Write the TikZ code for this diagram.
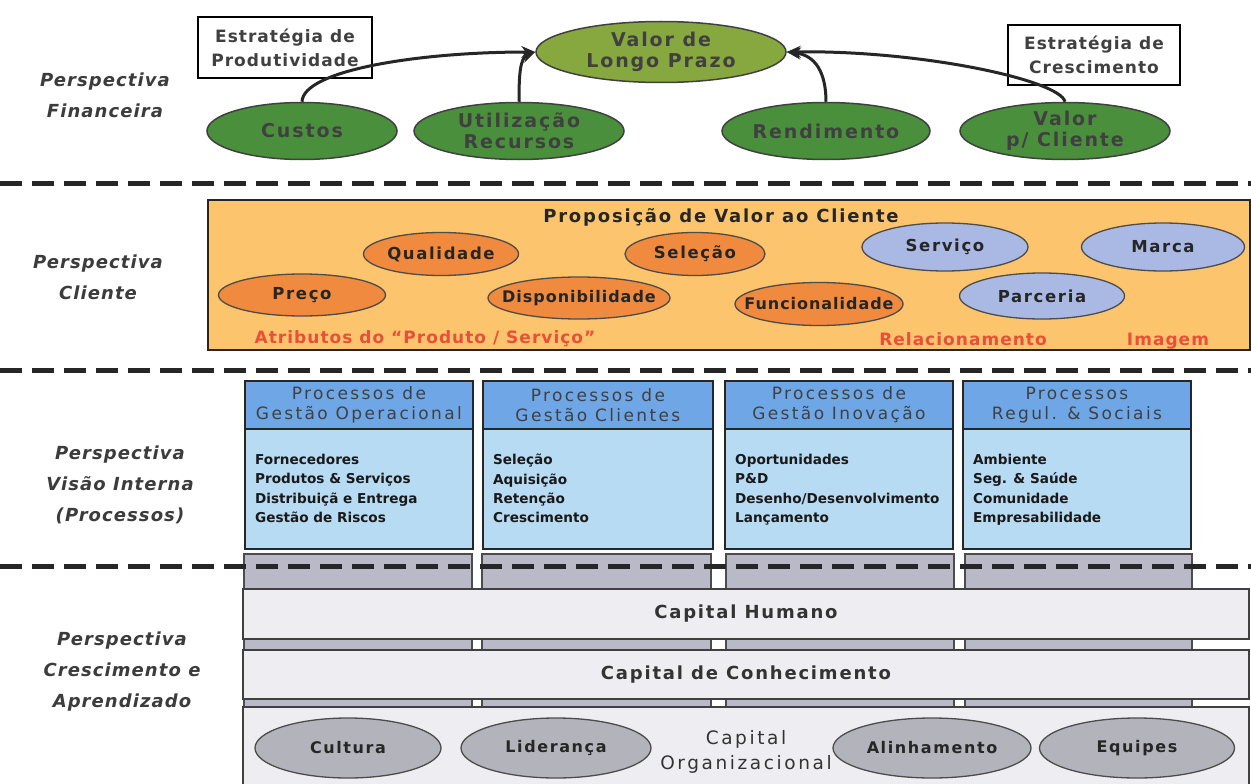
\documentclass[tikz,border=0pt]{standalone}
\usepackage{fontspec}
\setmainfont{DejaVu Sans}
\newfontfamily\spaced[LetterSpace=6]{DejaVu Sans}
\newfontfamily\roomy[LetterSpace=10]{DejaVu Sans}
\newfontfamily\wide[LetterSpace=14]{DejaVu Sans}
\usetikzlibrary{shapes.geometric,arrows.meta}

\definecolor{fingreen}{HTML}{4A8F3C}
\definecolor{finolive}{HTML}{86A83E}
\definecolor{boxorange}{HTML}{FCC46C}
\definecolor{ellorange}{HTML}{F08A3E}
\definecolor{ellblue}{HTML}{AAB9E4}
\definecolor{attrred}{HTML}{E8503A}
\definecolor{headblue}{HTML}{6FA6E6}
\definecolor{bodyblue}{HTML}{B8DBF4}
\definecolor{colgray}{HTML}{B9B9C7}
\definecolor{layergray}{HTML}{EEEEF2}
\definecolor{ellgray}{HTML}{B3B3BB}
\definecolor{labelgray}{HTML}{3C3C3C}

\begin{document}
\begin{tikzpicture}[x=1pt,y=-1pt,
  persp/.style={align=center, text=labelgray,
    font={\spaced\bfseries\itshape\fontsize{18}{31}\selectfont}},
  sep/.style={line width=5pt, dash pattern=on 22pt off 10pt, black!85},
  % ellipses keep the size given by minimum width/height
  fixell/.style={ellipse, inner xsep=-40pt, inner ysep=-10pt, align=center},
  finell/.style={fixell, draw=black!75, line width=1.5pt, fill=fingreen,
    text=black!75, font={\roomy\bfseries\fontsize{19}{21}\selectfont}},
  stratbox/.style={draw=black, line width=1.8pt, fill=white, align=center,
    inner sep=0pt, text=black!75,
    font={\spaced\bfseries\fontsize{17}{24}\selectfont}},
  arr/.style={line width=3pt, black!85, -{Stealth[length=14pt,width=12pt]}},
  cliell/.style={fixell, draw=black!70, line width=1.3pt, fill=ellorange,
    text=black!85, font={\roomy\bfseries\fontsize{16.5}{19}\selectfont}},
  tightell/.style={cliell, font={\spaced\bfseries\fontsize{16}{19}\selectfont}},
  blueell/.style={cliell, fill=ellblue},
  redtxt/.style={text=attrred, font={\spaced\bfseries\fontsize{17}{19}\selectfont}},
  phead/.style={draw=black!85, line width=1.8pt, fill=headblue, align=center,
    inner sep=0pt, text=black!75,
    font={\wide\fontsize{17}{20}\selectfont}},
  pbody/.style={draw=black!85, line width=1.8pt, fill=bodyblue, inner sep=0pt},
  plist/.style={align=left, anchor=north west, inner sep=0pt, text=black!90,
    font={\bfseries\fontsize{13.6}{19.4}\selectfont}},
  column/.style={draw=black!70, line width=1.5pt, fill=colgray},
  layer/.style={draw=black!75, line width=1.8pt, fill=layergray},
  layertxt/.style={text=black!80, font={\roomy\bfseries\fontsize{18}{20}\selectfont}},
  grayell/.style={fixell, draw=black!70, line width=1.3pt, fill=ellgray,
    text=black!85, font={\roomy\bfseries\fontsize{16}{18}\selectfont}},
]
\clip (0,0) rectangle (1251,784);
\fill[white] (0,0) rectangle (1251,784);

% ---------- perspective titles ----------
\node[persp] (pfin) at (105,95) {Perspectiva\\Financeira};
\node[persp] (pcli) at (98,277) {Perspectiva\\Cliente};
\node[persp] (pint) at (120,485) {Perspectiva\\Visão Interna\\(Processos)};
\node[persp] (pcre) at (122,672) {Perspectiva\\Crescimento e\\Aprendizado};

% ---------- financial perspective ----------
\node[stratbox, minimum width=174, minimum height=61] (eprod) at (285,47.5) {Estratégia de\\Produtividade};
\node[stratbox, minimum width=172, minimum height=60] (ecres) at (1094,55) {Estratégia de\\Crescimento};

\node[finell, fill=finolive, minimum width=250, minimum height=61] (vlp) at (661,52) {Valor de\\Longo Prazo};
\node[finell, minimum width=190, minimum height=57] (custos) at (302,131) {Custos};
\node[finell, minimum width=210, minimum height=57] (util) at (519,131) {Utilização\\Recursos};
\node[finell, minimum width=208, minimum height=57] (rend) at (826,131) {Rendimento};
\node[finell, minimum width=210, minimum height=57] (vpc) at (1065,131) {Valor\\p/ Cliente};

\draw[arr] (custos.north) .. controls (303,70) and (420,52) .. (vlp.west);
\draw[arr] (util.north) .. controls (519,75) and (520,58) .. (vlp.west);
\draw[arr] (rend.north) .. controls (826,72) and (815,55) .. (vlp.east);
\draw[arr] (vpc.north) .. controls (1060,80) and (920,50) .. (vlp.east);

% ---------- customer perspective ----------
\node[draw=black!85, line width=2pt, fill=boxorange, minimum width=1042, minimum height=150,
  inner sep=0pt] (cbox) at (729,275) {};
\node[text=black!85, font={\roomy\bfseries\fontsize{18}{20}\selectfont}] (pvc) at (721,217)
  {Proposição de Valor ao Cliente};

\node[cliell, minimum width=155, minimum height=43] (qual) at (441,254) {Qualidade};
\node[cliell, minimum width=140, minimum height=43] (sel) at (695,254) {Seleção};
\node[cliell, minimum width=167, minimum height=42] (preco) at (302,295) {Preço};
\node[tightell, minimum width=182, minimum height=42] (disp) at (579,298) {Disponibilidade};
\node[tightell, minimum width=168, minimum height=43] (func) at (819,304) {Funcionalidade};
\node[blueell, minimum width=166, minimum height=48] (serv) at (945,247) {Serviço};
\node[blueell, minimum width=163, minimum height=48] (marca) at (1163,247) {Marca};
\node[blueell, minimum width=165, minimum height=46] (parc) at (1042,296) {Parceria};

\node[redtxt] (attr) at (425,339) {Atributos do “Produto / Serviço”};
\node[redtxt] (rel) at (963,339) {Relacionamento};
\node[redtxt] (img) at (1168,341) {Imagem};

% ---------- growth and learning: columns behind the layers ----------
\draw[column] (244,554) rectangle (472,712);
\draw[column] (482,554) rectangle (711,712);
\draw[column] (726,554) rectangle (954,712);
\draw[column] (965,554) rectangle (1192,712);

% ---------- separators ----------
\coordinate (s1a) at (0,183);   \coordinate (s1b) at (1251,183);
\coordinate (s2a) at (0,370);   \coordinate (s2b) at (1251,370);
\coordinate (s3a) at (0,566);   \coordinate (s3b) at (1251,566);
\draw[sep] (s1a) -- (s1b);
\draw[sep] (s2a) -- (s2b);
\draw[sep] (s3a) -- (s3b);

% ---------- internal process perspective ----------
\foreach \x/\w/\n/\title/\items in {
  244/228/1/{Processos de\\Gestão Operacional}/{Fornecedores\\Produtos \& Serviços\\Distribuiçã e Entrega\\Gestão de Riscos},
  482/230/2/{Processos de\\Gestão Clientes}/{Seleção\\Aquisição\\Retenção\\Crescimento},
  724/228/3/{Processos de\\Gestão Inovação}/{Oportunidades\\P\&D\\Desenho/Desenvolvimento\\Lançamento},
  962/228/4/{Processos\\Regul. \& Sociais}/{Ambiente\\Seg. \& Saúde\\Comunidade\\Empresabilidade}}{
  \node[pbody, anchor=north west, minimum width=\w, minimum height=120] (body\n) at (\x,428) {};
  \node[phead, anchor=north west, minimum width=\w, minimum height=48] (head\n) at (\x,380) {\title};
  \node[plist] (list\n) at ([xshift=11pt,yshift=-26pt]body\n.north west) {\items};
}

% ---------- growth and learning: layers ----------
\node[layer, anchor=north west, minimum width=1006, minimum height=50, inner sep=0pt] (chum) at (242,588) {};
\node[layertxt] at (chum.center) {Capital Humano};
\node[layer, anchor=north west, minimum width=1006, minimum height=49, inner sep=0pt] (ccon) at (242,649) {};
\node[layertxt] at (ccon.center) {Capital de Conhecimento};
\node[layer, anchor=north west, minimum width=1006, minimum height=100, inner sep=0pt] (corg) at (242,706) {};

\node[grayell, minimum width=186, minimum height=60] (cult) at (348,748) {Cultura};
\node[grayell, minimum width=190, minimum height=60] (lid) at (556,748) {Liderança};
\node[grayell, minimum width=198, minimum height=60] (alin) at (932,748) {Alinhamento};
\node[grayell, minimum width=195, minimum height=60] (equip) at (1137,748) {Equipes};
\node[align=center, text=black!80, font={\wide\fontsize{18.5}{25}\selectfont}] (corgtxt) at (746,752)
  {Capital\\Organizacional};
\end{tikzpicture}
\end{document}
